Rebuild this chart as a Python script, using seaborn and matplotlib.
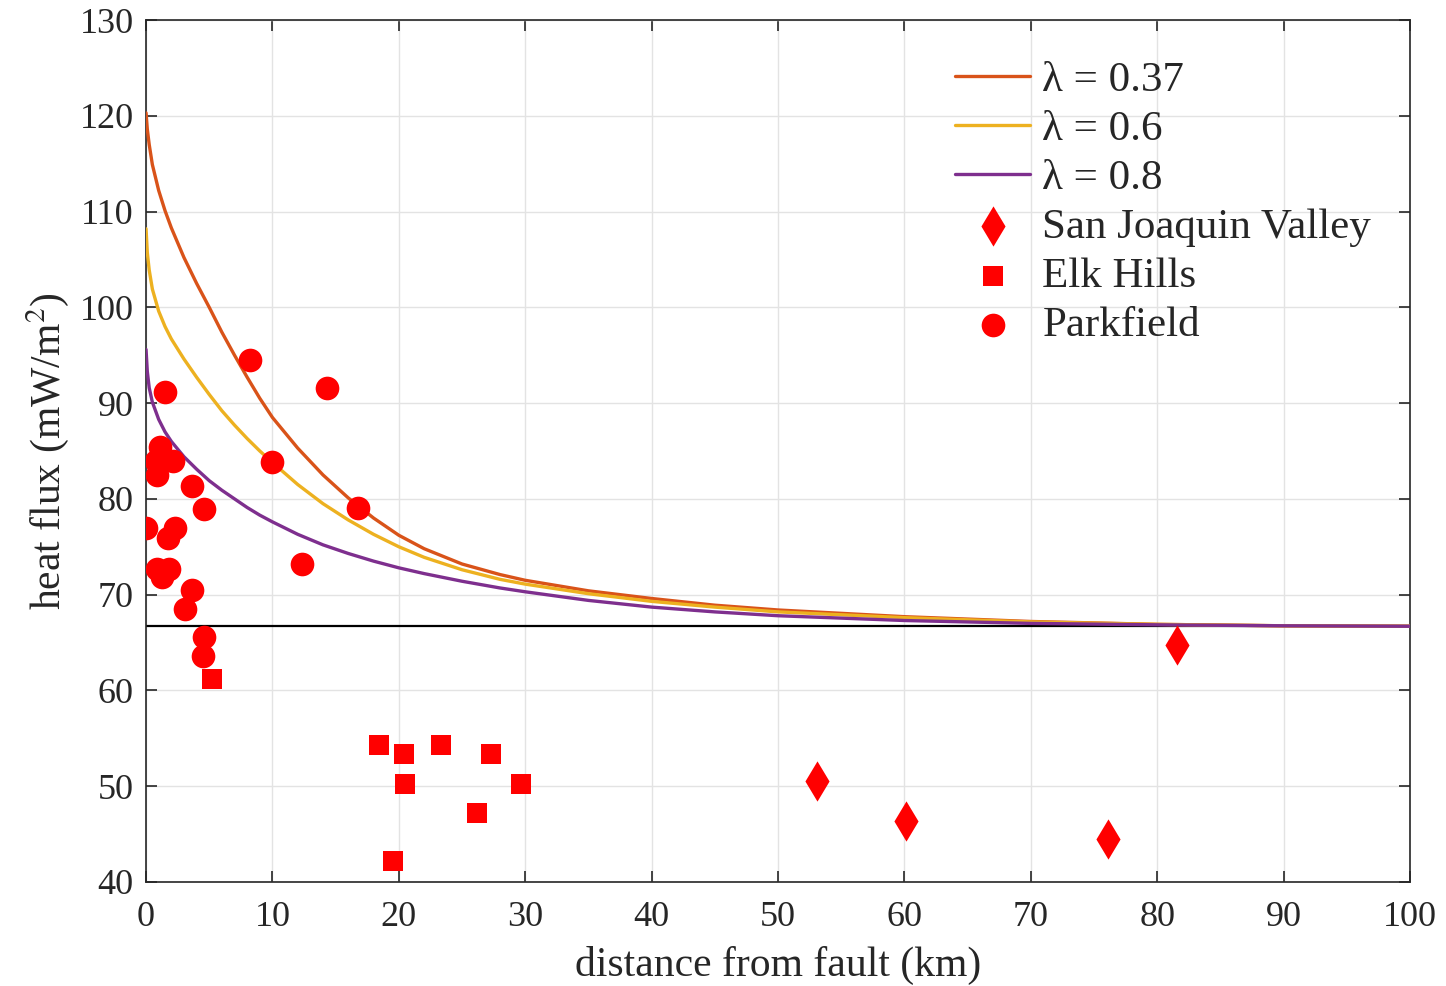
import numpy as np
import pandas as pd
import matplotlib
matplotlib.use("Agg")
import matplotlib.pyplot as plt
import seaborn as sns

# ---------------- data ----------------
curve_x = [0, 0.1, 0.25, 0.5, 1, 1.5, 2, 3, 4, 5, 6, 7, 8, 9, 10, 12, 14, 16, 18,
           20, 22, 25, 28, 30, 35, 40, 45, 50, 60, 70, 80, 90, 100]
q_037 = [120.3, 118.6, 117.0, 114.9, 112.2, 110.1, 108.3, 105.2, 102.5, 100.0, 97.4,
         95.0, 92.7, 90.5, 88.5, 85.3, 82.5, 80.1, 78.0, 76.2, 74.8, 73.2, 72.1, 71.5,
         70.4, 69.6, 68.9, 68.4, 67.7, 67.2, 66.9, 66.75, 66.7]
q_060 = [108.2, 105.7, 103.9, 101.9, 99.6, 98.0, 96.7, 94.6, 92.7, 90.9, 89.2, 87.7,
         86.3, 85.0, 83.8, 81.5, 79.5, 77.8, 76.3, 75.0, 73.9, 72.6, 71.6, 71.1, 70.1,
         69.3, 68.7, 68.2, 67.6, 67.15, 66.9, 66.75, 66.7]
q_080 = [95.6, 93.3, 91.6, 90.1, 88.3, 87.0, 86.0, 84.4, 83.1, 81.9, 80.9, 80.0, 79.1,
         78.3, 77.6, 76.3, 75.2, 74.3, 73.5, 72.8, 72.2, 71.4, 70.7, 70.3, 69.4, 68.7,
         68.2, 67.8, 67.3, 67.0, 66.85, 66.75, 66.7]
curve_labels = ["λ = 0.37", "λ = 0.6", "λ = 0.8"]
background_q = 66.7

sjv_x = [53.1, 60.1, 76.1, 81.6]
sjv_q = [50.5, 46.4, 44.5, 64.7]

elk_x = [5.2, 18.4, 20.4, 23.3, 27.3, 20.5, 29.7, 26.2, 19.5]
elk_q = [61.2, 54.3, 53.4, 54.3, 53.4, 50.2, 50.2, 47.2, 42.2]

park_x = [8.2, 14.3, 1.5, 1.1, 0.8, 2.1, 0.9, 3.6, 4.6, 0.0, 2.3, 1.7, 10.0, 16.8,
          12.3, 0.9, 1.8, 1.3, 3.6, 3.1, 4.6, 4.5]
park_q = [94.5, 91.6, 91.2, 85.4, 84.0, 84.0, 82.5, 81.3, 78.9, 77.0, 77.0, 75.9,
          83.8, 79.1, 73.2, 72.7, 72.7, 71.8, 70.5, 68.5, 65.6, 63.6]

# ---------------- style ----------------
sns.set_theme(style="white")
plt.rcParams["font.family"] = ["Liberation Serif", "DejaVu Serif"]
plt.rcParams["mathtext.fontset"] = "stix"

fig = plt.figure(figsize=(14.46, 9.86), dpi=100)
ax = fig.add_axes([0.101, 0.1055, 0.8741, 0.8742])

colors = ["#D95319", "#EDB120", "#7E2F8E"]
for q, lab, c in zip([q_037, q_060, q_080], curve_labels, colors):
    df = pd.DataFrame({"x": curve_x, "q": q})
    sns.lineplot(data=df, x="x", y="q", ax=ax, color=c, lw=2.4, label=lab,
                 sort=True, estimator=None, zorder=3)

ax.axhline(background_q, color="black", lw=1.6, zorder=2)

red = "#FF0000"
sns.scatterplot(x=sjv_x, y=sjv_q, ax=ax, marker="d", s=420, color=red,
                edgecolor=red, linewidth=0, label="San Joaquin Valley", zorder=4)
sns.scatterplot(x=elk_x, y=elk_q, ax=ax, marker="s", s=190, color=red,
                edgecolor=red, linewidth=0, label="Elk Hills", zorder=4)
sns.scatterplot(x=park_x, y=park_q, ax=ax, marker="o", s=290, color=red,
                edgecolor=red, linewidth=0, label="Parkfield", zorder=4)

ax.set_xlim(0, 100)
ax.set_ylim(40, 130)
ax.set_xticks(np.arange(0, 101, 10))
ax.set_yticks(np.arange(40, 131, 10))
ax.grid(True, color="#e3e3e3", lw=1.0)
ax.set_axisbelow(True)
for sp in ax.spines.values():
    sp.set_visible(True)
    sp.set_color("#262626")
    sp.set_linewidth(1.2)
ax.tick_params(axis="both", which="both", direction="in", length=8, width=1.2,
               color="#262626", labelsize=26, top=True, right=True,
               labelcolor="#262626", bottom=True, left=True)
ax.tick_params(axis="x", pad=14)
ax.tick_params(axis="y", pad=9)

ax.set_xlabel("distance from fault (km)", fontsize=30, color="#262626", labelpad=8)
ax.set_ylabel("heat flux (mW/m$^2$)", fontsize=30, color="#262626", labelpad=6)

leg = ax.legend(loc="upper left", bbox_to_anchor=(0.640, 0.953), frameon=False,
                fontsize=31, handlelength=1.75, handletextpad=0.28, borderpad=0,
                borderaxespad=0, labelspacing=0.23, markerscale=1.0)

fig.savefig("out.png", dpi=100)
